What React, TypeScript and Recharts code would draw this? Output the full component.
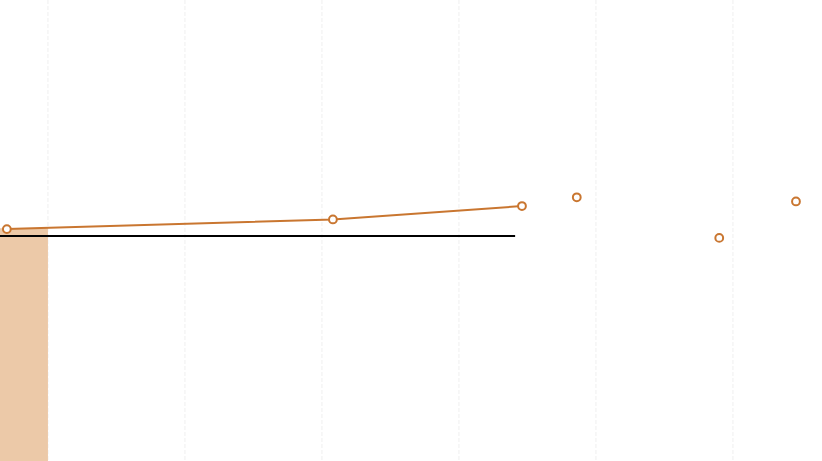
import { ComposedChart, Line, XAxis, YAxis, CartesianGrid, ReferenceArea } from "recharts"

// x positions on a numeric axis and the values
const trendX = [7.0, 30.8, 44.6]
const trendY = [50.3, 52.4, 55.3]
const looseX = [48.6, 59.0, 64.6]
const looseY = [57.2, 48.4, 56.3]
const baselineX = [6.5, 44.1]
const baselineY = 48.8
const barRange = [6.5, 10]
const barValue = 50.5
const xTicks = [10, 20, 30, 40, 50, 60]
const xDomain = [6.5, 66.5]

type Row = { x: number; trend?: number; loose?: number; base?: number }

const rows: Row[] = [
  ...trendX.map((x, i) => ({ x, trend: trendY[i] })),
  ...looseX.map((x, i) => ({ x, loose: looseY[i] })),
  ...baselineX.map((x) => ({ x, base: baselineY })),
].sort((a, b) => a.x - b.x)

const orange = "#c97630"
const dotStyle = { r: 3.9, stroke: orange, strokeWidth: 2, fill: "#fff" }

export default function App() {
  return (
    <div style={{ position: "absolute", left: 0, top: 0, width: 822, height: 461, overflow: "hidden", background: "#fff" }}>
      <ComposedChart width={822} height={461} data={rows} margin={{ top: 0, right: 0, bottom: 0, left: 0 }}>
        <CartesianGrid horizontal={false} syncWithTicks stroke="#efefef" strokeDasharray="4 2" />
        <XAxis
          dataKey="x"
          type="number"
          domain={xDomain}
          ticks={xTicks}
          interval={0}
          allowDataOverflow
          height={0}
          axisLine={false}
          tickLine={false}
          tick={{ fill: "transparent", fontSize: 1 }}
        />
        <YAxis type="number" domain={[0, 100]} hide allowDataOverflow />
        <ReferenceArea x1={barRange[0]} x2={barRange[1]} y1={0} y2={barValue} fill="#ecc9a8" fillOpacity={1} stroke="none" ifOverflow="hidden" />
        <Line dataKey="base" stroke="#000" strokeWidth={2} dot={false} activeDot={false} connectNulls isAnimationActive={false} />
        <Line dataKey="trend" stroke={orange} strokeWidth={2} dot={dotStyle} activeDot={false} connectNulls isAnimationActive={false} />
        <Line dataKey="loose" stroke="none" dot={dotStyle} activeDot={false} isAnimationActive={false} />
      </ComposedChart>
    </div>
  )
}
